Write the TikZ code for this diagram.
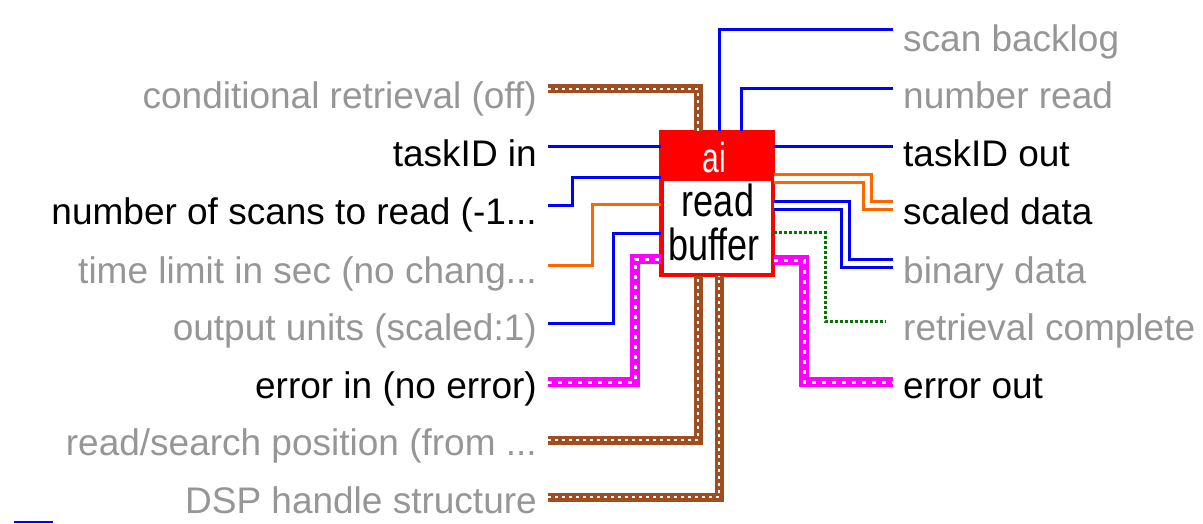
\documentclass[tikz,border=0pt]{standalone}
\usepackage{fontspec}
\setmainfont{Liberation Sans}
\definecolor{wblue}{RGB}{0,0,255}
\definecolor{wbrown}{RGB}{160,78,32}
\definecolor{wpink}{RGB}{255,0,255}
\definecolor{worange}{RGB}{255,102,0}
\definecolor{wgreen}{RGB}{0,120,0}
\definecolor{optgray}{RGB}{150,150,150}
\begin{document}
\begin{tikzpicture}[x=1pt,y=-1pt,
  lbl/.style={inner sep=0pt,font=\fontsize{37}{40}\selectfont},
  inlbl/.style={lbl,anchor=base east},
  outlbl/.style={lbl,anchor=base west},
  req/.style={text=black},
  opt/.style={text=optgray},
  wire/.style={line cap=butt,line join=miter},
  numw/.style={wire,draw=wblue,line width=3pt},
  numarr/.style={wire,draw=wblue,line width=3pt,double=white,double distance=5pt},
  dblarr/.style={wire,draw=worange,line width=3pt,double=white,double distance=5pt},
  dblw/.style={wire,draw=worange,line width=3pt},
  boolw/.style={wire,draw=wgreen,line width=3pt,dash pattern=on 3pt off 2pt},
  clusw/.style={wire,draw=wbrown,line width=9pt,
    postaction={draw=white,line width=2.5pt,dash pattern=on 3pt off 4pt}},
  errw/.style={wire,draw=wpink,line width=10pt,
    postaction={draw=white,line width=3pt,dash pattern=on 4pt off 6pt}},
]
\useasboundingbox (0,0) rectangle (1203,524);

% the VI icon
\node[draw=red,line width=3pt,fill=white,minimum width=110pt,minimum height=141pt,
      inner sep=0pt] (vi) at (717,203.5) {};
\fill[red] (vi.north west) rectangle ([yshift=-50pt]vi.north east);
\draw[red,line width=3pt] (vi.north west) rectangle (vi.south east);
\node[text=white,font=\fontsize{30}{30}\selectfont,inner sep=0pt,anchor=base]
  (ai) at (714,173) {\scalebox{1}[1.4]{ai}};
\node[font=\fontsize{36}{36}\selectfont,inner sep=0pt,anchor=base]
  (rd) at (718,216) {\scalebox{1}[1.25]{read}};
\node[font=\fontsize{36}{36}\selectfont,inner sep=0pt,anchor=base]
  (bf) at (714,260) {\scalebox{1}[1.25]{buffer}};

% input terminals
\node[inlbl,opt] (cond)  at (537,109) {conditional retrieval (off)};
\node[inlbl,req] (tin)   at (537,167) {taskID in};
\node[inlbl,req] (nscan) at (537,225) {number of scans to read (-1...};
\node[inlbl,opt] (tlim)  at (537,283) {time limit in sec (no chang...};
\node[inlbl,opt] (ounit) at (537,340) {output units (scaled:1)};
\node[inlbl,req] (ein)   at (537,398) {error in (no error)};
\node[inlbl,opt] (rpos)  at (537,455) {read/search position (from ...};
\node[inlbl,opt] (dsp)   at (537,513) {DSP handle structure};

% output terminals
\node[outlbl,opt] (sback) at (903,52)  {scan backlog};
\node[outlbl,opt] (nread) at (903,109) {number read};
\node[outlbl,req] (tout)  at (903,167) {taskID out};
\node[outlbl,req] (sdata) at (903,225) {scaled data};
\node[outlbl,opt] (bdata) at (903,283) {binary data};
\node[outlbl,opt] (rcomp) at (903,340) {retrieval complete};
\node[outlbl,req] (eout)  at (903,398) {error out};

% wire ends beside the labels
\coordinate (w-cond)  at (548,89);
\coordinate (w-tin)   at (548,147);
\coordinate (w-nscan) at (548,206);
\coordinate (w-tlim)  at (548,265);
\coordinate (w-ounit) at (548,323);
\coordinate (w-ein)   at (548,382);
\coordinate (w-rpos)  at (548,440);
\coordinate (w-dsp)   at (548,497);
\coordinate (w-sback) at (893,30);
\coordinate (w-nread) at (893,89);
\coordinate (w-tout)  at (893,147);
\coordinate (w-sdata) at (893,206);
\coordinate (w-bdata) at (893,263);
\coordinate (w-rcomp) at (885,321);
\coordinate (w-eout)  at (893,382);

% inputs
\draw[clusw] (w-cond) -| (vi.north -| 698,0);
\draw[numw]  (w-tin) -- (w-tin -| vi.west);
\draw[numw]  (w-nscan) -- ++(24,0) |- (vi.west |- 0,178);
\draw[dblw]  (w-tlim) -- ++(44,0) |- (vi.west |- 0,205);
\draw[numw]  (w-ounit) -- ++(65,0) |- (vi.west |- 0,233);
\draw[errw]  (w-ein) -- ++(87,0) |- (vi.west |- 0,259);
\draw[clusw] (w-rpos) -| (vi.south -| 698,0);
\draw[clusw] (w-dsp) -| (vi.south -| 719,0);

% outputs
\draw[numw]   (vi.north -| 719,0) |- (w-sback);
\draw[numw]   (vi.north -| 741,0) |- (w-nread);
\draw[numw]   (w-tout -| vi.east) -- (w-tout);
\draw[dblarr] (vi.east |- 0,179) -- (867,179) |- (w-sdata);
\draw[numarr] (vi.east |- 0,206) -- (845,206) |- (w-bdata);
\draw[boolw]  (vi.east |- 0,232) -- (825,232) |- (w-rcomp);
\draw[errw]   (vi.east |- 0,260) -- (804,260) |- (w-eout);

% stray underline at the lower left
\draw[wblue,line width=2pt] (14,522) -- (53,522);
\end{tikzpicture}
\end{document}
